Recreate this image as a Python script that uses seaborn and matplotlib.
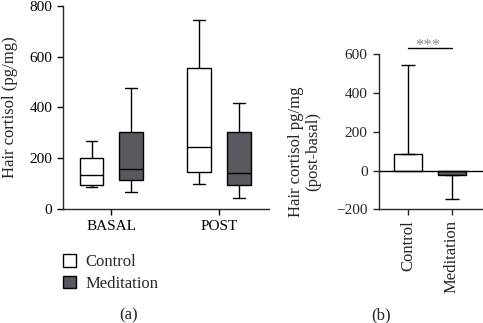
import pandas as pd
import matplotlib.pyplot as plt
import seaborn as sns
from matplotlib.patches import Patch

sns.set_style("ticks")
plt.rcParams["font.family"] = ["Liberation Serif", "DejaVu Serif"]
plt.rcParams["axes.linewidth"] = 1.0

# (a) five-number summaries: min, Q1, median, Q3, max
phases = ["BASAL", "POST"]
groups = ["Control", "Meditation"]
basal_control = [88, 94, 133, 200, 267]
basal_meditation = [68, 114, 157, 305, 475]
post_control = [99, 146, 244, 554, 742]
post_meditation = [44, 94, 142, 302, 416]

# (b) post - basal difference: bar height and end of the error bar
diff_mean = [88, -22]
diff_whisker_end = [545, -148]

colors = ["white", "#57575f"]

rows = []
for phase, grp, vals in [("BASAL", "Control", basal_control),
                         ("BASAL", "Meditation", basal_meditation),
                         ("POST", "Control", post_control),
                         ("POST", "Meditation", post_meditation)]:
    for v in vals:
        rows.append({"phase": phase, "group": grp, "cortisol": v})
df = pd.DataFrame(rows)

W, H = 483, 323
fig = plt.figure(figsize=(W / 100, H / 100), dpi=100)

# ---- panel (a)
ax1 = fig.add_axes([63.3 / W, 1 - 209.3 / H, (269 - 63.3) / W, (209.3 - 5.7) / H])
sns.boxplot(data=df, x="phase", y="cortisol", hue="group", order=phases,
            hue_order=groups, palette=colors, whis=(0, 100), width=0.74, gap=0.4,
            linecolor="black", linewidth=1.0, legend=False, ax=ax1)
ax1.set_xlim(-0.447, 1.463)
ax1.set_ylim(0, 800)
ax1.set_yticks([0, 200, 400, 600, 800])
ax1.set_xlabel("")
ax1.set_ylabel("Hair cortisol (pg/mg)", fontsize=12)
ax1.yaxis.set_label_coords(-0.22, 0.5)
ax1.tick_params(axis="both", labelsize=11, length=4.5, width=1.0, colors="black")
sns.despine(ax=ax1)

handles = [Patch(facecolor=c, edgecolor="black", linewidth=1.0) for c in colors]
fig.legend(handles, groups, loc="upper left", bbox_to_anchor=(55 / W, 1 - 246 / H),
           frameon=False, fontsize=12, handlelength=0.75, handleheight=0.75,
           handletextpad=0.6, labelspacing=0.35, borderpad=0)
fig.text(129 / W, 1 - 315 / H, "(a)", ha="center", va="center", fontsize=12)

# ---- panel (b)
ax2 = fig.add_axes([378.7 / W, 1 - 209.3 / H, (483 - 378.7) / W, (209.3 - 54.3) / H])
sns.barplot(x=groups, y=diff_mean, hue=groups, palette=colors, width=0.65,
            edgecolor="black", linewidth=1.0, legend=False, ax=ax2)
err_lo = [0, diff_mean[1] - diff_whisker_end[1]]
err_hi = [diff_whisker_end[0] - diff_mean[0], 0]
ax2.errorbar([0, 1], diff_mean, yerr=[err_lo, err_hi], fmt="none",
             ecolor="black", elinewidth=1.0, capsize=5, capthick=1.0, zorder=3)
ax2.axhline(0, color="black", linewidth=1.0, zorder=4)
ax2.set_xlim(-0.69, 1.73)
ax2.set_ylim(-200, 600)
ax2.set_yticks([-200, 0, 200, 400, 600])
ax2.tick_params(axis="y", labelsize=11, length=4.5, width=1.0)
ax2.tick_params(axis="x", labelsize=12, length=4.5, width=1.0, rotation=90)
ax2.set_ylabel("Hair cortisol pg/mg\n(post-basal)", fontsize=12, linespacing=1.15)
ax2.yaxis.set_label_coords(-0.55, 0.37)
sns.despine(ax=ax2)

ax2.plot([0, 1], [631, 631], color="black", linewidth=1.0, clip_on=False)
ax2.text(0.45, 624, "***", ha="center", va="baseline", fontsize=12, color="#888888")
fig.text(381 / W, 1 - 315 / H, "(b)", ha="center", va="center", fontsize=12)

fig.savefig("out.png", dpi=100)
